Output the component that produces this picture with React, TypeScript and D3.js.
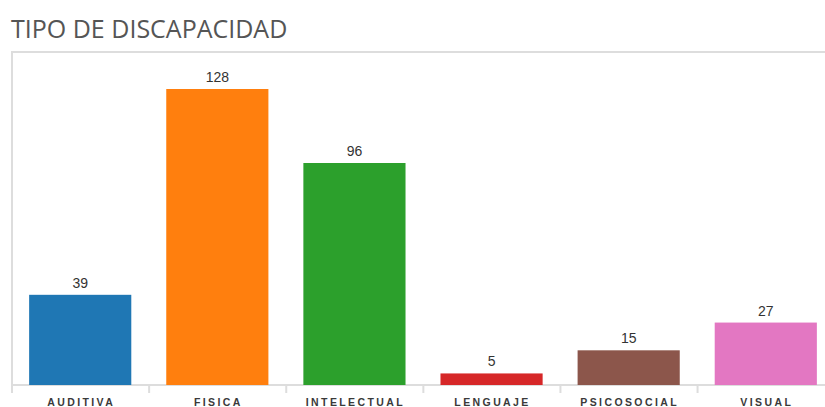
import React, { useEffect, useRef } from "react";
import * as d3 from "d3";

const categories = ["AUDITIVA", "FISICA", "INTELECTUAL", "LENGUAJE", "PSICOSOCIAL", "VISUAL"];
const values = [39, 128, 96, 5, 15, 27];
const colors = ["#1f77b4", "#ff7f0e", "#2ca02c", "#d62728", "#8c564b", "#e377c2"];

function App() {
  const ref = useRef<SVGSVGElement>(null);

  useEffect(() => {
    drawChart();
  }, []);

  const drawChart = () => {
    const width = 825, height = 407;
    const left = 12, right = 834, top = 52, bottom = 385;

    const svg = d3.select(ref.current);
    svg.selectAll("*").remove();
    svg.attr("width", width).attr("height", height);

    // title
    svg.append("text")
      .attr("x", 11)
      .attr("y", 38)
      .style("font-family", "'Open Sans', sans-serif")
      .style("font-size", "25px")
      .style("font-weight", 500)
      .style("fill", "#555555")
      .text("TIPO DE DISCAPACIDAD");

    // panel border (left + top)
    svg.append("path")
      .attr("d", `M${left},${bottom + 8}V${top}H${width}`)
      .attr("fill", "none")
      .attr("stroke", "#dddddd")
      .attr("stroke-width", 2);

    const x = d3.scaleBand()
      .domain(categories)
      .range([left, right])
      .paddingInner(0.255)
      .paddingOuter(0.125);

    const y = d3.scaleLinear()
      .domain([0, 144])
      .range([bottom, top]);

    // x axis
    const step = x.step();
    const axis = svg.append("g");
    axis.append("line")
      .attr("x1", left).attr("x2", width)
      .attr("y1", bottom).attr("y2", bottom)
      .attr("stroke", "#dddddd").attr("stroke-width", 2);
    axis.selectAll("line.tick")
      .data(d3.range(categories.length + 1))
      .enter()
      .append("line")
      .attr("class", "tick")
      .attr("x1", i => left + i * step)
      .attr("x2", i => left + i * step)
      .attr("y1", bottom)
      .attr("y2", bottom + 8)
      .attr("stroke", "#dddddd")
      .attr("stroke-width", 2);

    axis.selectAll("text")
      .data(categories)
      .enter()
      .append("text")
      .attr("x", d => (x(d) as number) + x.bandwidth() / 2 + 1)
      .attr("y", 406)
      .attr("text-anchor", "middle")
      .style("font-family", "Arial, 'Liberation Sans', sans-serif")
      .style("font-size", "10.5px")
      .style("font-weight", "bold")
      .style("letter-spacing", "2.4px")
      .style("fill", "#3a3a3a")
      .text(d => d);

    // bars
    svg.selectAll("rect.bar")
      .data(values)
      .enter()
      .append("rect")
      .attr("class", "bar")
      .attr("x", (d, i) => x(categories[i]) as number)
      .attr("width", x.bandwidth())
      .attr("y", d => y(d))
      .attr("height", d => bottom - y(d))
      .attr("fill", (d, i) => colors[i]);

    // value labels
    svg.selectAll("text.val")
      .data(values)
      .enter()
      .append("text")
      .attr("class", "val")
      .attr("x", (d, i) => (x(categories[i]) as number) + x.bandwidth() / 2)
      .attr("y", d => y(d) - 7)
      .attr("text-anchor", "middle")
      .style("font-family", "Arial, 'Liberation Sans', sans-serif")
      .style("font-size", "14px")
      .style("fill", "#333333")
      .text(d => d);
  };

  return (
    <svg ref={ref} style={{ position: "absolute", left: 0, top: 0, background: "#fff" }}></svg>
  );
}

export default App;
